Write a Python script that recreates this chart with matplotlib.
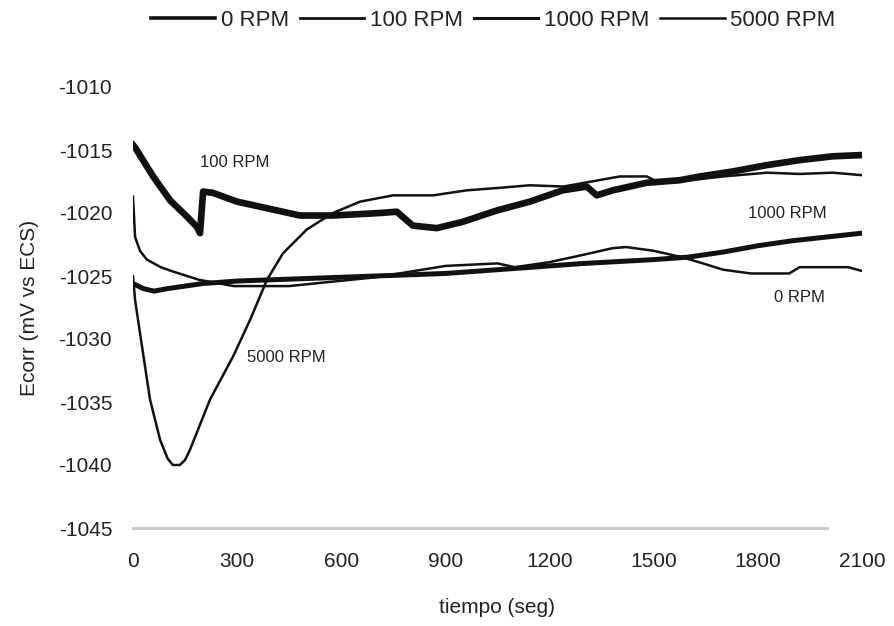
import matplotlib
matplotlib.use("Agg")
import matplotlib.pyplot as plt
from matplotlib.lines import Line2D

plt.rcParams['font.family'] = ['Liberation Sans', 'DejaVu Sans']
plt.rcParams['axes.unicode_minus'] = False

# Corrosion potential vs time for each rotation speed
t_0rpm = [0, 30, 60, 100, 200, 300, 500, 700, 900, 1100, 1300, 1500, 1600, 1700, 1800, 1900, 2000, 2100]
e_0rpm = [-1025.6, -1026.0, -1026.2, -1026.0, -1025.6, -1025.4, -1025.2, -1025.0, -1024.8, -1024.4,
          -1024.0, -1023.7, -1023.5, -1023.1, -1022.6, -1022.2, -1021.9, -1021.6]

t_100rpm = [0, 6, 58, 107, 156, 184, 193, 202, 230, 300, 481, 576, 711, 760, 806, 875, 950, 1048,
            1143, 1238, 1307, 1336, 1382, 1480, 1575, 1633, 1728, 1826, 1921, 2016, 2100]
e_100rpm = [-1014.6, -1014.8, -1017.1, -1019.0, -1020.3, -1021.1, -1021.6, -1018.3, -1018.4, -1019.1,
            -1020.2, -1020.2, -1020.0, -1019.9, -1021.0, -1021.2, -1020.7, -1019.8, -1019.1, -1018.2,
            -1017.9, -1018.6, -1018.2, -1017.6, -1017.4, -1017.1, -1016.7, -1016.2, -1015.8, -1015.5,
            -1015.4]

t_1000rpm = [0, 6, 20, 40, 80, 110, 190, 290, 450, 520, 700, 900, 1050, 1100, 1200, 1300, 1380, 1420,
             1500, 1580, 1630, 1700, 1780, 1890, 1920, 2060, 2100]
e_1000rpm = [-1018.7, -1021.9, -1023.0, -1023.7, -1024.3, -1024.6, -1025.3, -1025.8, -1025.8, -1025.6,
             -1025.1, -1024.2, -1024.0, -1024.3, -1023.9, -1023.3, -1022.8, -1022.7, -1023.0, -1023.5,
             -1023.9, -1024.5, -1024.8, -1024.8, -1024.3, -1024.3, -1024.6]

t_5000rpm = [0, 6, 20, 49, 78, 100, 115, 135, 150, 164, 222, 288, 337, 386, 432, 501, 576, 654, 749,
             864, 962, 1057, 1143, 1240, 1402, 1480, 1509, 1575, 1700, 1826, 1921, 2016, 2100]
e_5000rpm = [-1025.0, -1026.9, -1029.5, -1034.8, -1038.0, -1039.5, -1040.0, -1040.0, -1039.6, -1038.8,
             -1034.8, -1031.4, -1028.5, -1025.3, -1023.2, -1021.3, -1020.0, -1019.1, -1018.6, -1018.6,
             -1018.2, -1018.0, -1017.8, -1017.9, -1017.1, -1017.1, -1017.5, -1017.5, -1017.1, -1016.8,
             -1016.9, -1016.8, -1017.0]

series_labels = ['0 RPM', '100 RPM', '1000 RPM', '5000 RPM']
x_ticks = [0, 300, 600, 900, 1200, 1500, 1800, 2100]
y_ticks = [-1045, -1040, -1035, -1030, -1025, -1020, -1015, -1010]

ink = '#111111'
txt = '#222222'
fig = plt.figure(figsize=(8.95, 6.26), dpi=100)
ax = fig.add_axes([133 / 895, 1 - 528 / 626, 729 / 895, 441 / 626])

ax.plot(t_0rpm, e_0rpm, color=ink, lw=3.6, solid_joinstyle='round')
ax.plot(t_100rpm, e_100rpm, color=ink, lw=4.8, solid_joinstyle='round')
ax.plot(t_1000rpm, e_1000rpm, color=ink, lw=1.8, solid_joinstyle='round')
ax.plot(t_5000rpm, e_5000rpm, color=ink, lw=1.8, solid_joinstyle='round')

# faded base line of the plot area
ax.plot([0, 2000], [-1045, -1045], color='#c9c9c9', lw=2.2, clip_on=False, zorder=0)

ax.set_xlim(0, 2100)
ax.set_ylim(-1045, -1010)
ax.set_xticks(x_ticks)
ax.set_yticks(y_ticks)
ax.tick_params(length=0, labelsize=15, colors=txt)
ax.tick_params(axis='y', pad=15)
ax.tick_params(axis='x', pad=17)
for s in ax.spines.values():
    s.set_visible(False)

ax.set_xlabel('tiempo (seg)', fontsize=15, color=txt, labelpad=20)
ax.set_ylabel('Ecorr (mV vs ECS)', fontsize=15, color=txt, labelpad=14)

# inline curve labels
lab_kw = dict(fontsize=12, color=txt, ha='center', va='center')
ax.text(294, -1016.0, '100 RPM', **lab_kw)
ax.text(1886, -1020.0, '1000 RPM', **lab_kw)
ax.text(1921, -1026.7, '0 RPM', **lab_kw)
ax.text(441, -1031.5, '5000 RPM', **lab_kw)

handles = [Line2D([], [], color=ink, lw=2.6),
           Line2D([], [], color=ink, lw=2.0),
           Line2D([], [], color=ink, lw=2.2),
           Line2D([], [], color=ink, lw=1.8)]
fig.legend(handles, series_labels, loc='center', bbox_to_anchor=(0.551, 1 - 20 / 626),
           ncol=4, frameon=False, fontsize=16, handlelength=2.9, handletextpad=0.25,
           columnspacing=0.5, labelcolor=txt)

fig.savefig('out.png', dpi=100)
